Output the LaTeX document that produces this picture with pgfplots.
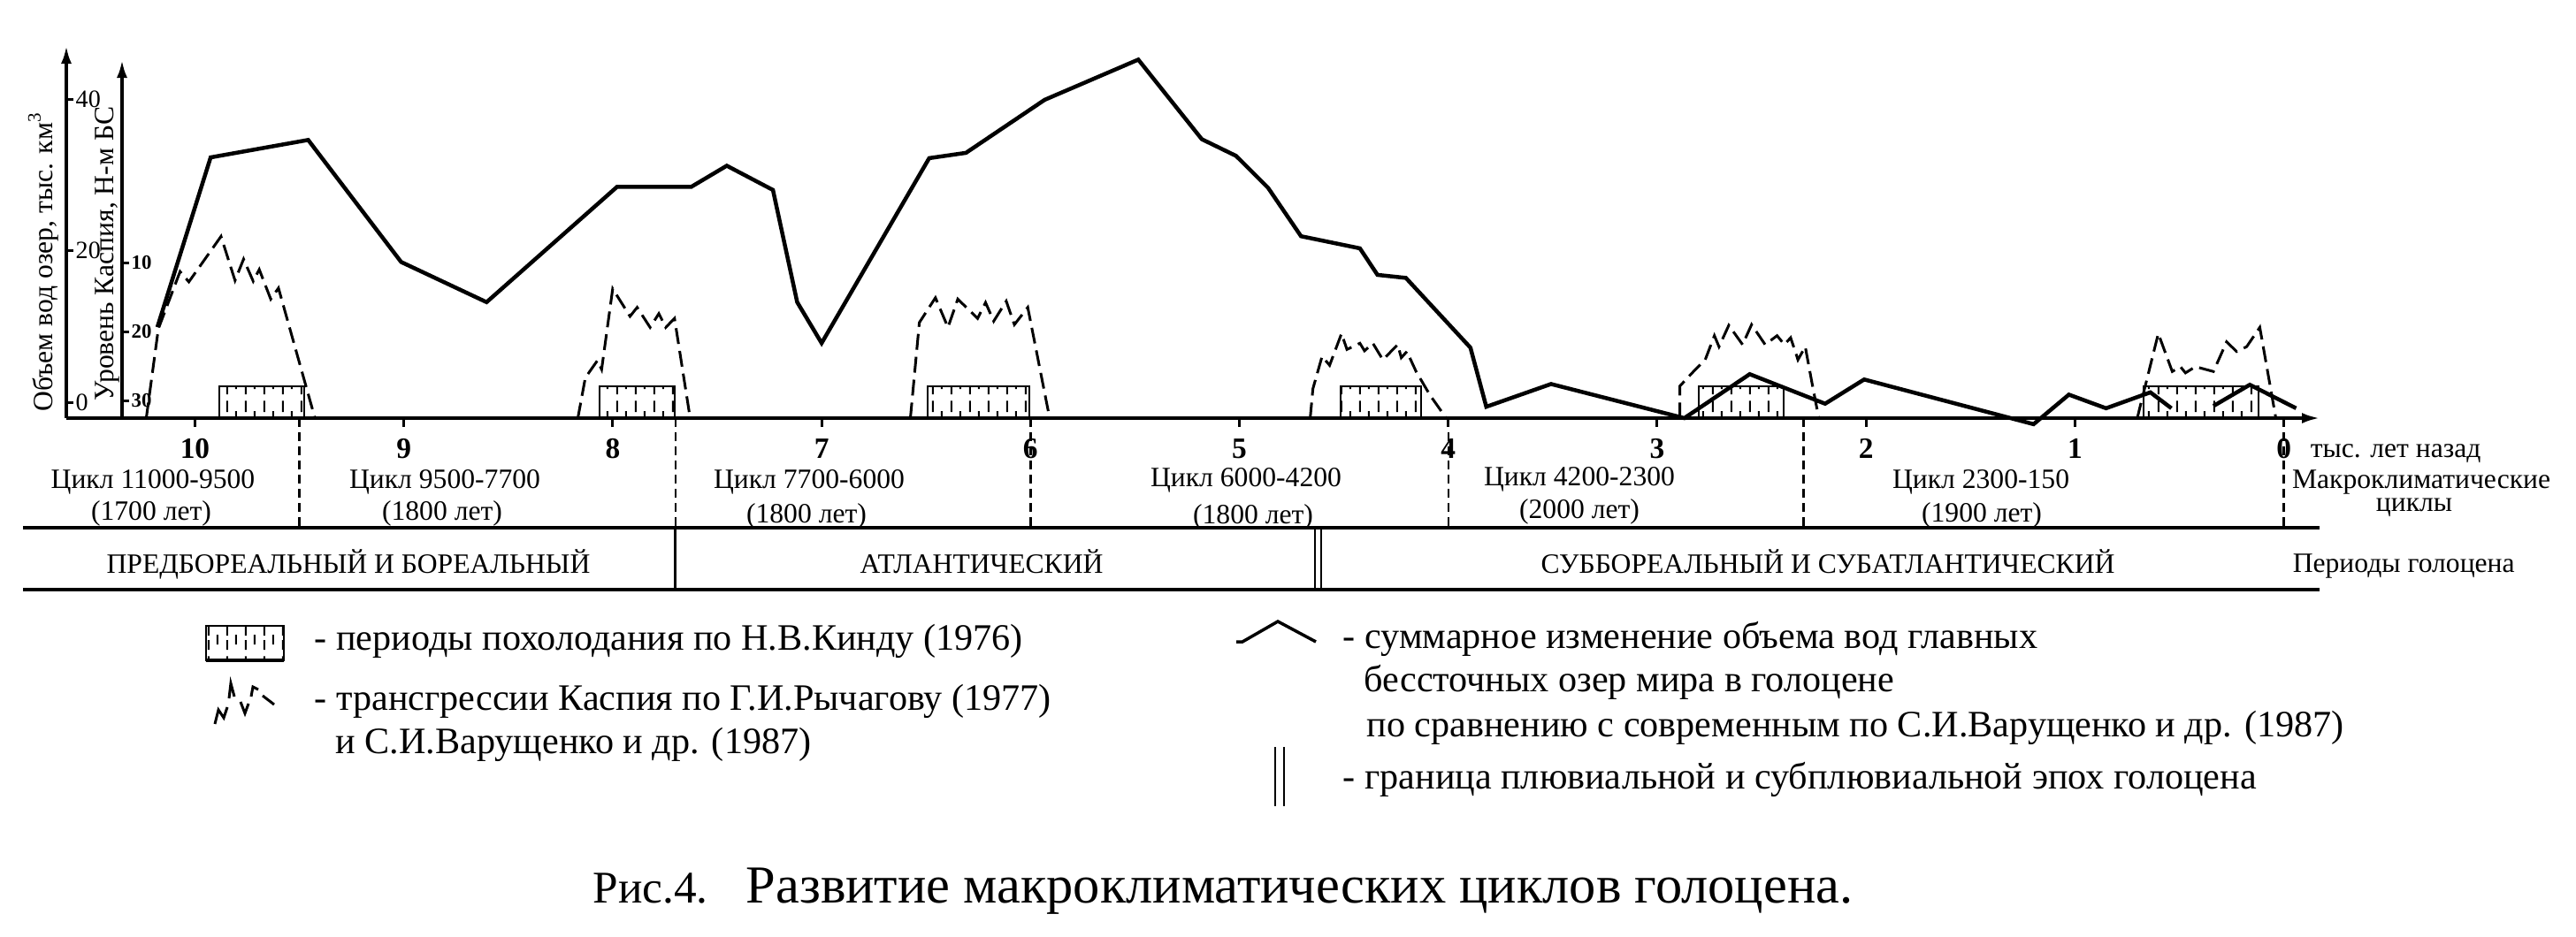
\documentclass[border=0pt]{standalone}
\usepackage{fontspec}
\setmainfont{Liberation Serif}
\usepackage{pgfplots}
\pgfplotsset{compat=1.18}
\usetikzlibrary{arrows.meta,patterns}

% vertical dashed hatching of the cooling periods
\pgfdeclarepatternformonly{cool}{\pgfpointorigin}{\pgfpoint{2.1mm}{3.6mm}}{\pgfpoint{2.1mm}{3.6mm}}{%
  \pgfsetlinewidth{0.2mm}%
  \pgfpathmoveto{\pgfpoint{0.5mm}{0.1mm}}\pgfpathlineto{\pgfpoint{0.5mm}{1.2mm}}%
  \pgfpathmoveto{\pgfpoint{0.5mm}{1.7mm}}\pgfpathlineto{\pgfpoint{0.5mm}{3.0mm}}%
  \pgfpathmoveto{\pgfpoint{1.55mm}{0.7mm}}\pgfpathlineto{\pgfpoint{1.55mm}{1.8mm}}%
  \pgfusepath{stroke}}

\tikzset{
  zig/.style={line width=0.3mm, dash pattern=on 1.8mm off 0.8mm},
  sep/.style={line width=0.25mm, dash pattern=on 1mm off 0.6mm},
  box/.style={line width=0.2mm, pattern=cool},
  ax/.style={line width=0.35mm, -{Latex[length=2mm,width=1.2mm]}},
}

\begin{document}
\begin{tikzpicture}
\path[use as bounding box] (0,0) rectangle (291.3mm,-105.9mm);

% ---- main axis: volume of lake water, thousand km^3
\begin{axis}[
  at={(7.5mm,-47.3mm)}, anchor=south west,
  scale only axis, width=254.8mm, height=42.1mm,
  x dir=reverse, xmin=-0.171, xmax=10.616,
  ymin=-2.1, ymax=47.0, enlargelimits=false,
  axis x line*=bottom, axis y line=none,
  x axis line style={draw=none},
  xtick={0,1,...,10}, tick align=outside, major tick length=1mm,
  every tick/.style={black, line width=0.3mm},
  xticklabel style={font=\fontsize{9.5}{10}\selectfont\bfseries, anchor=base, yshift=-3.5mm, inner sep=0pt},
  /pgf/number format/assume math mode=true,
  clip=false,
]
% cooling periods (Kind 1976)
\addplot[box] coordinates {(9.883,-2.1) (9.883,2.1) (9.479,2.1) (9.479,-2.1)} -- cycle;
\addplot[box] coordinates {(8.065,-2.1) (8.065,2.1) (7.704,2.1) (7.704,-2.1)} -- cycle;
\addplot[box] coordinates {(6.494,-2.1) (6.494,2.1) (6.004,2.1) (6.004,-2.1)} -- cycle;
\addplot[box] coordinates {(4.515,-2.1) (4.515,2.1) (4.132,2.1) (4.132,-2.1)} -- cycle;
\addplot[box] coordinates {(2.800,-2.1) (2.800,2.1) (2.396,2.1) (2.396,-2.1)} -- cycle;
\addplot[box] coordinates {(0.673,-2.1) (0.673,2.1) (0.120,2.1) (0.120,-2.1)} -- cycle;

% total change of water volume
\addplot[line width=0.45mm, unbounded coords=jump] coordinates {
(10.18,9.9) (9.925,32.3) (9.458,34.6) (9.013,18.5) (8.604,13.2) (7.98,28.4)
(7.625,28.4) (7.454,31.2) (7.233,28.0) (7.117,13.2) (7.0,7.8) (6.485,32.2)
(6.309,32.9) (5.932,39.9) (5.484,45.2) (5.18,34.7) (5.016,32.5) (4.863,28.3)
(4.705,21.9) (4.423,20.3) (4.339,16.8) (4.203,16.4) (3.894,7.2) (3.818,-0.6)
(3.508,2.4) (2.87,-2.1) (2.557,3.7) (2.196,-0.2) (2.009,3.0) (1.198,-2.9)
(1.029,1.0) (0.851,-0.8) (0.639,1.3) (0.538,-0.8) (0.45,nan)
(0.337,-0.5) (0.163,2.3) (-0.059,-0.8)};

% cycle boundaries and table verticals
\draw[sep] (axis cs:9.5,-2.1) -- (axis cs:9.5,-16.55);
\draw[sep] (axis cs:7.7,-2.1) -- (axis cs:7.7,-16.55);
\draw[sep] (axis cs:6.0,-2.1) -- (axis cs:6.0,-16.55);
\draw[sep] (axis cs:4.0,-2.1) -- (axis cs:4.0,-16.55);
\draw[sep] (axis cs:2.3,-2.1) -- (axis cs:2.3,-16.55);
\draw[sep] (axis cs:0.0,-2.1) -- (axis cs:0.0,-16.55);
\draw[line width=0.3mm] (axis cs:7.7,-16.55) -- (axis cs:7.7,-24.71);
\draw[line width=0.25mm] (axis cs:4.639,-16.55) -- (axis cs:4.639,-24.71)
  (axis cs:4.608,-16.55) -- (axis cs:4.608,-24.71);
\end{axis}

% ---- Caspian transgressions, level m BS
\begin{axis}[
  at={(13.8mm,-47.3mm)}, anchor=south west,
  scale only axis, width=248.5mm, height=40.5mm,
  x dir=reverse, xmin=-0.171, xmax=10.349,
  ymin=-32.56, ymax=19.36, enlargelimits=false,
  hide axis, clip=false,
]
\addplot[zig] coordinates {(10.233,-32.6) (10.175,-19.6) (10.071,-11.3) (10.029,-12.8)
 (9.875,-6.2) (9.808,-12.6) (9.767,-9.5) (9.721,-12.7) (9.692,-11.0) (9.637,-15.3)
 (9.6,-13.7) (9.425,-32.6)};
\addplot[zig] coordinates {(8.167,-32.6) (8.131,-26.7) (8.073,-24.2) (8.053,-25.5)
 (8.0,-13.8) (7.917,-17.8) (7.883,-16.5) (7.821,-19.4) (7.779,-17.4) (7.746,-19.4)
 (7.704,-18.1) (7.629,-32.6)};
\addplot[zig] coordinates {(6.575,-32.6) (6.532,-18.7) (6.455,-15.1) (6.395,-19.4)
 (6.348,-15.3) (6.253,-18.1) (6.215,-15.8) (6.176,-18.5) (6.116,-15.6) (6.077,-19.0)
 (6.013,-16.5) (5.908,-32.6)};
\addplot[zig] coordinates {(4.661,-32.6) (4.648,-28.3) (4.604,-23.6) (4.568,-24.9)
 (4.511,-20.3) (4.485,-22.6) (4.423,-21.7) (4.401,-22.8) (4.361,-21.7) (4.313,-24.1)
 (4.242,-21.9) (4.225,-23.8) (4.198,-22.9) (4.154,-25.8) (4.088,-29.2) (4.009,-32.6)};
\addplot[zig] coordinates {(2.891,-32.6) (2.891,-27.9) (2.826,-25.8) (2.77,-24.1)
 (2.726,-20.6) (2.704,-22.2) (2.657,-19.1) (2.591,-21.9) (2.548,-19.0) (2.483,-21.9)
 (2.426,-20.6) (2.391,-21.9) (2.361,-20.9) (2.326,-24.1) (2.291,-22.2) (2.261,-27.1)
 (2.226,-32.6)};
\addplot[zig] coordinates {(0.702,-32.6) (0.601,-20.3) (0.534,-25.8) (0.495,-25.1)
 (0.471,-26.0) (0.423,-25.1) (0.337,-25.8) (0.274,-21.5) (0.226,-22.9) (0.178,-22.2)
 (0.115,-19.4) (0.038,-32.6)};
\end{axis}

% ---- outer y scale (volume)
\begin{axis}[
  at={(7.5mm,-47.3mm)}, anchor=south west,
  scale only axis, width=1mm, height=42.1mm,
  xmin=0, xmax=1, ymin=-2.1, ymax=47.0, enlargelimits=false,
  axis x line=none, axis y line*=left,
  y axis line style={ax},
  ytick={0,20,40}, tick align=inside, major tick length=0.8mm,
  every tick/.style={black, line width=0.3mm},
  yticklabel style={font=\fontsize{8}{9}\selectfont, anchor=west, xshift=1mm, inner sep=0pt},
  /pgf/number format/assume math mode=true,
]
\end{axis}

% ---- inner y scale (Caspian level)
\begin{axis}[
  at={(13.8mm,-47.3mm)}, anchor=south west,
  scale only axis, width=1mm, height=40.5mm,
  xmin=0, xmax=1, ymin=-32.56, ymax=19.36, enlargelimits=false,
  axis x line=none, axis y line*=left,
  y axis line style={ax},
  ytick={-30,-20,-10}, yticklabels={30,20,10},
  tick align=inside, major tick length=0.8mm,
  every tick/.style={black, line width=0.3mm},
  yticklabel style={font=\fontsize{6.5}{7}\selectfont\bfseries, anchor=west, xshift=1mm, inner sep=0pt},
]
\end{axis}

\begin{scope}[x=0.1mm, y=-0.1mm, every node/.style={inner sep=0pt}]
\draw[ax] (75,473) -- (2623,473);

% axis titles
\node[rotate=90, font=\fontsize{9}{10}\selectfont] at (49,296) {Объем вод озер, тыс. км\textsuperscript{3}};
\node[rotate=90, font=\fontsize{9}{10}\selectfont] at (121,287) {Уровень Каспия, Н-м БС};

% table
\draw[line width=0.35mm] (26,597) -- (2623,597) (26,667) -- (2623,667);

\begin{scope}[font=\fontsize{9}{10}\selectfont]
\node[anchor=base] at (173,552) {Цикл 11000-9500};
\node[anchor=base] at (171,588) {(1700 лет)};
\node[anchor=base] at (503,552) {Цикл 9500-7700};
\node[anchor=base] at (500,588) {(1800 лет)};
\node[anchor=base] at (915,552) {Цикл 7700-6000};
\node[anchor=base] at (912,591) {(1800 лет)};
\node[anchor=base] at (1409,550) {Цикл 6000-4200};
\node[anchor=base] at (1417,592) {(1800 лет)};
\node[anchor=base] at (1786,549) {Цикл 4200-2300};
\node[anchor=base] at (1786,586) {(2000 лет)};
\node[anchor=base] at (2240,552) {Цикл 2300-150};
\node[anchor=base] at (2241,590) {(1900 лет)};

\node[anchor=base] at (394,648) {ПРЕДБОРЕАЛЬНЫЙ И БОРЕАЛЬНЫЙ};
\node[anchor=base] at (1110,648) {АТЛАНТИЧЕСКИЙ};
\node[anchor=base] at (2067,648) {СУББОРЕАЛЬНЫЙ И СУБАТЛАНТИЧЕСКИЙ};

\node[anchor=base west] at (2612,517) {тыс. лет назад};
\node[anchor=base] at (2738,552) {Макроклиматические};
\node[anchor=base] at (2730,578) {циклы};
\node[anchor=base west] at (2592,647) {Периоды голоцена};
\end{scope}

% legend
\draw[box] (233,708) rectangle (321,747);
\draw[line width=0.45mm] (233,747) -- (321,747);
\draw[line width=0.3mm] (243,819) -- (247,803) -- (253,812) -- (257,800)
  (259,790) -- (261,773) -- (265,788)
  (272,794) -- (277,807) -- (281,796)
  (284,788) -- (286,777) -- (292,780)
  (297,787) -- (310,797);
\draw[line width=0.35mm] (1398,726) -- (1405,726) -- (1445,703) -- (1488,726);
\draw[line width=0.25mm] (1442,845) -- (1442,912) (1452,845) -- (1452,912);

\begin{scope}[font=\fontsize{12}{14}\selectfont]
\node[anchor=base west] at (355,735) {- периоды похолодания по Н.В.Кинду (1976)};
\node[anchor=base west] at (355,803) {- трансгрессии Каспия по Г.И.Рычагову (1977)};
\node[anchor=base west] at (379,852) {и С.И.Варущенко и др. (1987)};
\node[anchor=base west] at (1518,733) {- суммарное изменение объема вод главных};
\node[anchor=base west] at (1542,782) {бессточных озер мира в голоцене};
\node[anchor=base west] at (1545,833) {по сравнению с современным по С.И.Варущенко и др. (1987)};
\node[anchor=base west] at (1518,892) {- граница плювиальной и субплювиальной эпох голоцена};
\end{scope}

% caption
\node[anchor=base west, font=\fontsize{14.6}{16}\selectfont] at (670,1021) {Рис.4.};
\node[anchor=base west, font=\fontsize{17.2}{19}\selectfont] at (843,1021) {Развитие макроклиматических циклов голоцена.};
\end{scope}
\end{tikzpicture}
\end{document}
